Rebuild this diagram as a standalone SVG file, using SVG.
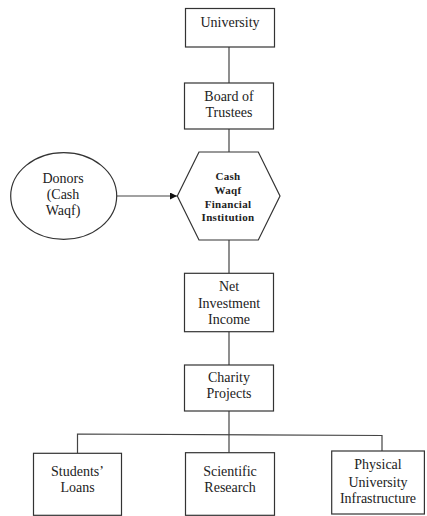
<svg xmlns="http://www.w3.org/2000/svg" width="427" height="516" viewBox="0 0 427 516">
<defs>
<style>
.box{fill:#fff;stroke:#333;stroke-width:1.2}
.ln{fill:none;stroke:#444;stroke-width:1.2}
.t{font-family:"Liberation Serif","Times New Roman",serif;font-size:14px;fill:#222;text-anchor:middle}
.tb{font-family:"Liberation Serif","Times New Roman",serif;font-size:11px;font-weight:bold;fill:#222;text-anchor:middle;letter-spacing:0.3px}
</style>
<marker id="arr" viewBox="0 0 10 10" refX="10" refY="5" markerWidth="8" markerHeight="7" markerUnits="userSpaceOnUse" orient="auto">
<path d="M0,0 L10,5 L0,10 z" fill="#111"/>
</marker>
</defs>
<rect width="427" height="516" fill="#fff"/>
<g id="connectors">
<line class="ln" x1="229" y1="47" x2="229" y2="83"/>
<line class="ln" x1="229" y1="129" x2="229" y2="152"/>
<line class="ln" x1="117" y1="196" x2="177" y2="196" marker-end="url(#arr)"/>
<line class="ln" x1="229" y1="240" x2="229" y2="273"/>
<line class="ln" x1="229" y1="332" x2="229" y2="365"/>
<line class="ln" x1="229" y1="411" x2="229" y2="453"/>
<polyline class="ln" points="77.5,453 77.5,434 382,435.5 382,451"/>
</g>
<g id="university">
<rect class="box" x="185.5" y="8.5" width="89" height="38.5"/>
<text class="t" x="230" y="27">University</text>
</g>
<g id="board">
<rect class="box" x="184.5" y="83" width="89" height="46"/>
<text class="t" x="229" y="101">Board of</text>
<text class="t" x="229" y="116.5">Trustees</text>
</g>
<g id="donors">
<ellipse class="box" cx="63.7" cy="196" rx="53" ry="43.3"/>
<text class="t" x="63" y="183">Donors</text>
<text class="t" x="63" y="199">(Cash</text>
<text class="t" x="63" y="215">Waqf)</text>
</g>
<g id="institution">
<polygon class="box" points="177.3,196 199,152 258.3,152 280,196 258.3,240 199,240"/>
<text class="tb" x="228" y="179.5">Cash</text>
<text class="tb" x="228" y="193.5">Waqf</text>
<text class="tb" x="228" y="207.5">Financial</text>
<text class="tb" x="228" y="220.5">Institution</text>
</g>
<g id="income">
<rect class="box" x="184.5" y="273.3" width="89" height="58.4"/>
<text class="t" x="229" y="291">Net</text>
<text class="t" x="229" y="308">Investment</text>
<text class="t" x="229" y="324">Income</text>
</g>
<g id="charity">
<rect class="box" x="184.5" y="365" width="89" height="46"/>
<text class="t" x="229" y="382">Charity</text>
<text class="t" x="229" y="397.5">Projects</text>
</g>
<g id="loans">
<rect class="box" x="33.5" y="453.3" width="88" height="62"/>
<text class="t" x="77.5" y="476">Students’</text>
<text class="t" x="77.5" y="492">Loans</text>
</g>
<g id="research">
<rect class="box" x="185.5" y="452.7" width="89" height="62.6"/>
<text class="t" x="230" y="476">Scientific</text>
<text class="t" x="230" y="492">Research</text>
</g>
<g id="infrastructure">
<rect class="box" x="331.7" y="451" width="92.7" height="63"/>
<text class="t" x="378" y="469">Physical</text>
<text class="t" x="378" y="486.5">University</text>
<text class="t" x="378" y="502.5">Infrastructure</text>
</g>
</svg>
